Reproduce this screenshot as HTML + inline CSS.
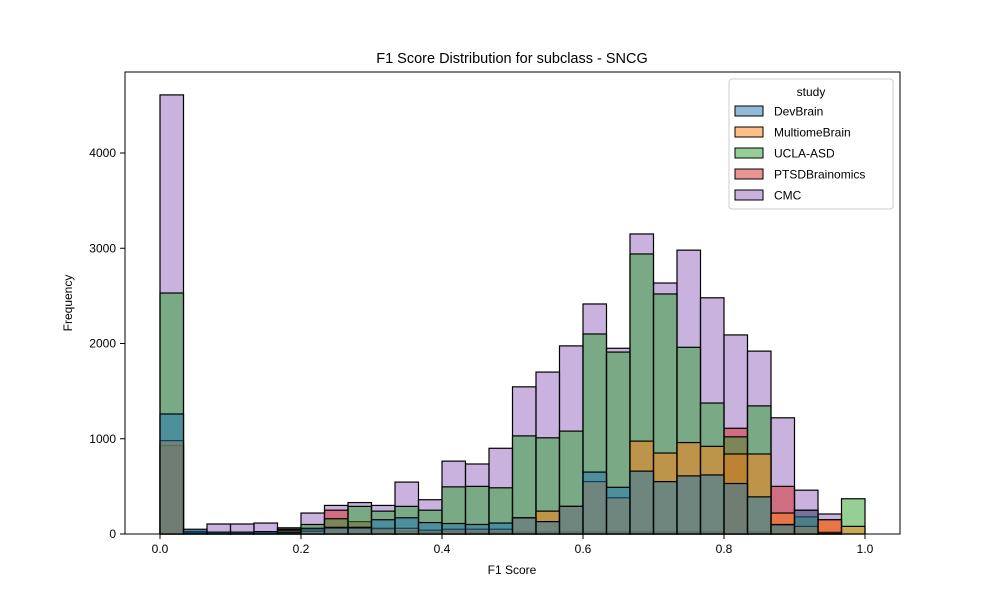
<!DOCTYPE html>
<html><head><meta charset="utf-8"><style>
body{margin:0;background:#fff;}
svg{font-family:"Liberation Sans","DejaVu Sans",sans-serif;}
</style></head><body>
<svg id="chart" width="1000" height="600" viewBox="0 0 1000 600">
<rect width="1000" height="600" fill="#fff"/>
<text x="512" y="63" text-anchor="middle" font-size="14.5">F1 Score Distribution for subclass - SNCG</text>
<g id="bars"></g>
<g id="axes"></g>
<text x="512" y="574" text-anchor="middle" font-size="12">F1 Score</text>
<text transform="translate(72,303) rotate(-90)" text-anchor="middle" font-size="12">Frequency</text>
<g id="legend"></g>
</svg>
<script>
const studies = ["DevBrain","MultiomeBrain","UCLA-ASD","PTSDBrainomics","CMC"];
const devBrain = [1260,50,20,20,25,20,60,70,70,150,170,120,110,100,115,170,130,290,650,490,660,550,610,620,530,390,100,250,10,0];
const multiomeBrain = [980,10,5,5,5,10,30,60,60,60,60,40,50,50,50,170,240,290,550,380,975,850,960,920,840,840,220,80,150,80];
const uclaAsd = [2530,20,5,5,10,40,100,160,290,240,290,250,495,500,485,1030,1010,1080,2100,1910,2940,2520,1960,1375,1020,1345,90,180,20,370];
const ptsd = [930,5,5,5,10,50,50,250,130,50,30,20,30,20,20,20,20,20,20,20,20,20,20,20,1110,20,500,250,150,0];
const cmc = [4610,30,105,105,115,65,220,300,330,300,545,360,765,735,900,1545,1700,1975,2415,1950,3150,2635,2980,2480,2090,1920,1220,460,210,0];
const yTicks = [0,1000,2000,3000,4000];
const xTicks = [0,0.2,0.4,0.6,0.8,1.0];
const seriesList = [devBrain, multiomeBrain, uclaAsd, ptsd, cmc];
const colors = ["#1f77b4","#ff7f0e","#2ca02c","#d62728","#9467bd"];
const NS="http://www.w3.org/2000/svg";
const X0=160, X1=865, Y0=534, YS=381/4000;
const xs = v => X0 + v*(X1-X0);
const ys = v => Y0 - v*YS;
const nb = 30;
const bars = document.getElementById('bars');
for (let s = studies.length-1; s >= 0; s--) {
  const data = seriesList[s];
  for (let i = 0; i < nb; i++) {
    if (data[i] <= 0) continue;
    const r = document.createElementNS(NS,'rect');
    const xa = xs(i/nb), xb = xs((i+1)/nb);
    r.setAttribute('x', xa); r.setAttribute('width', xb-xa);
    r.setAttribute('y', ys(data[i])); r.setAttribute('height', Y0-ys(data[i]));
    r.setAttribute('fill', colors[s]); r.setAttribute('fill-opacity','0.5');
    r.setAttribute('stroke','#000'); r.setAttribute('stroke-width','1.2');
    
    
    bars.appendChild(r);
  }
}
const axes = document.getElementById('axes');
const frame = document.createElementNS(NS,'rect');
frame.setAttribute('x',125); frame.setAttribute('y',72); frame.setAttribute('width',775); frame.setAttribute('height',462);
frame.setAttribute('fill','none'); frame.setAttribute('stroke','#000'); frame.setAttribute('stroke-width','1');


axes.appendChild(frame);
yTicks.forEach(t => {
  const y = ys(t);
  const l = document.createElementNS(NS,'line');
  l.setAttribute('x1',120); l.setAttribute('x2',125); l.setAttribute('y1',y); l.setAttribute('y2',y); l.setAttribute('stroke','#000');
  
  
  axes.appendChild(l);
  const tx = document.createElementNS(NS,'text');
  tx.setAttribute('x',116); tx.setAttribute('y',y+4); tx.setAttribute('text-anchor','end'); tx.setAttribute('font-size','12');
  tx.textContent = t;
  
  
  axes.appendChild(tx);
});
xTicks.forEach(t => {
  const x = xs(t);
  const l = document.createElementNS(NS,'line');
  l.setAttribute('x1',x); l.setAttribute('x2',x); l.setAttribute('y1',534); l.setAttribute('y2',539); l.setAttribute('stroke','#000');
  
  
  axes.appendChild(l);
  const tx = document.createElementNS(NS,'text');
  tx.setAttribute('x',x); tx.setAttribute('y',553); tx.setAttribute('text-anchor','middle'); tx.setAttribute('font-size','12');
  tx.textContent = t.toFixed(1);
  
  
  axes.appendChild(tx);
});
const lg = document.getElementById('legend');
const box = document.createElementNS(NS,'rect');
box.setAttribute('x',729); box.setAttribute('y',79); box.setAttribute('width',164); box.setAttribute('height',130); box.setAttribute('rx',3);
box.setAttribute('fill','#fff'); box.setAttribute('fill-opacity','0.8'); box.setAttribute('stroke','#ccc');


lg.appendChild(box);
const lt = document.createElementNS(NS,'text');
lt.setAttribute('x',811); lt.setAttribute('y',96); lt.setAttribute('text-anchor','middle'); lt.setAttribute('font-size','12');
lt.textContent='study';


lg.appendChild(lt);
studies.forEach((s,i) => {
  const y = 111 + i*21;
  const r = document.createElementNS(NS,'rect');
  r.setAttribute('x',735); r.setAttribute('y',y-5); r.setAttribute('width',28); r.setAttribute('height',10);
  r.setAttribute('fill',colors[i]); r.setAttribute('fill-opacity','0.5'); r.setAttribute('stroke','#000');
  
  
  lg.appendChild(r);
  const t = document.createElementNS(NS,'text');
  t.setAttribute('x',774); t.setAttribute('y',y+4.5); t.setAttribute('font-size','12');
  t.textContent = s;
  
  
  lg.appendChild(t);
});
</script>
</body></html>
